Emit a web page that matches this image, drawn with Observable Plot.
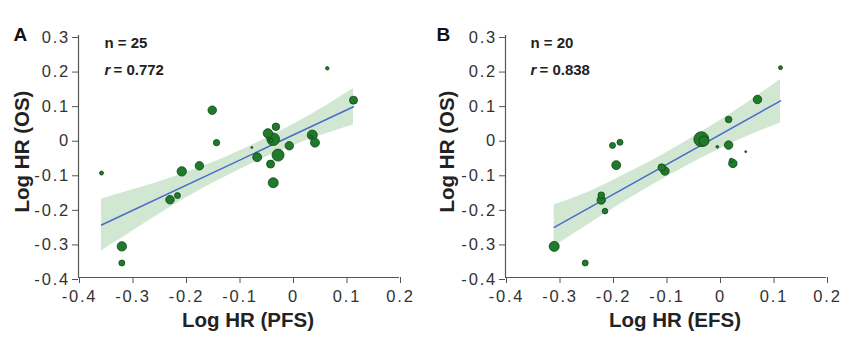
<!DOCTYPE html>
<html><head><meta charset="utf-8">
<script src="https://cdn.jsdelivr.net/npm/d3@7"></script>
<script src="https://cdn.jsdelivr.net/npm/@observablehq/plot@0.6"></script>
<style>
html,body{margin:0;padding:0;background:#fff;}
#wrap{display:flex;width:866px;height:339px;overflow:hidden;}
#wrap svg{display:block;}
g[aria-label="x-axis tick label"] text, g[aria-label="y-axis tick label"] text{letter-spacing:1.8px;}
</style></head><body><div id="wrap"></div>
<script>
// ---- shared ticks ----
const xTicks = [-0.4, -0.3, -0.2, -0.1, 0, 0.1, 0.2];
const yTicks = [-0.4, -0.3, -0.2, -0.1, 0, 0.1, 0.2, 0.3];

// ---- Panel A: PFS vs OS ----
const aLogHrPFS = [-0.357, -0.319, -0.319, -0.229, -0.215, -0.207, -0.174, -0.150, -0.142, -0.076, -0.066, -0.046, -0.031, -0.036, -0.041, -0.027, -0.036, -0.006, 0.037, 0.042, 0.065, 0.114, -0.045, 0.035, -0.040];
const aLogHrOS  = [-0.098, -0.310, -0.358, -0.175, -0.163, -0.093, -0.077, 0.084, -0.010, -0.024, -0.052, 0.017, 0.036, 0.000, -0.072, -0.046, -0.126, -0.019, 0.012, -0.010, 0.205, 0.113, 0.002, 0.008, -0.003];
const aWeight   = [4, 22, 9, 18, 9, 22, 18, 18, 10, 1, 20, 22, 14, 40, 16, 36, 25, 18, 25, 20, 3, 16, 2, 2, 4];
const aFitX = [-0.357, 0.114];
const aFitY = [-0.248, 0.094];
const aBandX  = [-0.357, -0.3, -0.25, -0.2, -0.15, -0.1, -0.05, 0, 0.05, 0.114];
const aBandLo = [-0.323, -0.267, -0.218, -0.171, -0.128, -0.089, -0.052, -0.020, 0.009, 0.041];
const aBandHi = [-0.173, -0.147, -0.124, -0.097, -0.068, -0.035, 0.002, 0.042, 0.085, 0.147];

// ---- Panel B: EFS vs OS ----
const bLogHrEFS = [-0.309, -0.251, -0.221, -0.221, -0.214, -0.200, -0.186, -0.193, -0.108, -0.102, -0.034, -0.029, -0.004, 0.017, 0.017, 0.022, 0.025, 0.049, 0.071, 0.114];
const bLogHrOS  = [-0.310, -0.358, -0.162, -0.176, -0.208, -0.018, -0.009, -0.075, -0.082, -0.092, 0.000, -0.005, -0.022, 0.057, -0.017, -0.061, -0.070, -0.036, 0.115, 0.207];
const bWeight   = [25, 9, 11, 18, 8, 9, 9, 20, 14, 18, 56, 25, 2, 11, 18, 4, 18, 1, 18, 4];
const bFitX = [-0.309, 0.114];
const bFitY = [-0.255, 0.111];
const bBandX  = [-0.309, -0.25, -0.2, -0.15, -0.1, -0.05, 0, 0.05, 0.114];
const bBandLo = [-0.310, -0.252, -0.202, -0.155, -0.110, -0.068, -0.029, 0.007, 0.047];
const bBandHi = [-0.190, -0.156, -0.120, -0.081, -0.040, 0.006, 0.053, 0.103, 0.173];

const FONT = "'Liberation Sans', Arial, Helvetica, sans-serif";

function panel(o) {
  const pts = o.x.map((x, i) => ({x, y: o.y[i], w: o.w[i]}));
  const band = o.bandX.map((x, i) => ({x, lo: o.bandLo[i], hi: o.bandHi[i]}));
  const fit = o.fitX.map((x, i) => ({x, y: o.fitY[i]}));
  const pw = 321;
  return Plot.plot({
    width: 433, height: 339,
    marginLeft: o.ml, marginRight: 433 - o.ml - pw, marginTop: 35, marginBottom: 62,
    x: {domain: [-0.4, 0.2]},
    y: {domain: [-0.4, 0.3]},
    r: {type: "sqrt", domain: [0, 49], range: [0, 7]},
    style: {fontFamily: FONT, color: "#333", background: "#fff", overflow: "visible"},
    marks: [
      Plot.areaY(band, {x: "x", y1: "lo", y2: "hi", fill: "#d2e7d2", curve: "natural"}),
      Plot.line(fit, {x: "x", y: "y", stroke: "#4a6cc8", strokeWidth: 1.5}),
      Plot.dot(pts, {x: "x", y: "y", r: "w", fill: "#1f7a2b", stroke: "#0f4716", strokeWidth: 0.8}),
      Plot.ruleX([-0.4], {stroke: "#555", strokeWidth: 1.2}),
      Plot.ruleY([-0.4], {stroke: "#555", strokeWidth: 1.2}),
      Plot.axisX({ticks: xTicks, tickFormat: d => String(d), tickSize: 6, tickPadding: 7, fontSize: 16.5, label: null, stroke: "#555", dx: 1}),
      Plot.axisY({ticks: yTicks, tickFormat: d => String(d), tickSize: 6, tickPadding: 2.5, fontSize: 16.5, label: null, stroke: "#555", dy: 2}),
      Plot.text([o.xLabel], {frameAnchor: "bottom", textAnchor: "middle", lineAnchor: "middle", dx: 9, dy: 43, fontSize: 20.5, fontWeight: "bold", fill: "#222"}),
      Plot.text([o.yLabel], {frameAnchor: "left", textAnchor: "middle", lineAnchor: "middle", rotate: -90, dx: o.ylDx, dy: -5, fontSize: 20.5, fontWeight: "bold", fill: "#222"}),
      Plot.text([o.letter], {frameAnchor: "top-left", textAnchor: "start", lineAnchor: "bottom", dx: o.letterDx, dy: 5, fontSize: 19, fontWeight: "bold", fill: "#111"}),
      Plot.text([o.nText], {frameAnchor: "top-left", textAnchor: "start", lineAnchor: "bottom", dx: o.annDx, dy: 12, fontSize: 15, fontWeight: "bold", fill: "#222"}),
      Plot.text(["r"], {frameAnchor: "top-left", textAnchor: "start", lineAnchor: "bottom", dx: o.annDx, dy: 39, fontSize: 15, fontWeight: "bold", fontStyle: "italic", fill: "#222"}),
      Plot.text([o.rText], {frameAnchor: "top-left", textAnchor: "start", lineAnchor: "bottom", dx: o.annDx + 9, dy: 39, fontSize: 15, fontWeight: "bold", fill: "#222"})
    ]
  });
}

const wrap = document.getElementById("wrap");
wrap.appendChild(panel({
  x: aLogHrPFS, y: aLogHrOS, w: aWeight,
  fitX: aFitX, fitY: aFitY, bandX: aBandX, bandLo: aBandLo, bandHi: aBandHi,
  ml: 78, ylDx: -56, letterDx: -65, annDx: 26,
  xLabel: "Log HR (PFS)", yLabel: "Log HR (OS)", letter: "A", nText: "n = 25", rText: "= 0.772"
}));
wrap.appendChild(panel({
  x: bLogHrEFS, y: bLogHrOS, w: bWeight,
  fitX: bFitX, fitY: bFitY, bandX: bBandX, bandLo: bBandLo, bandHi: bBandHi,
  ml: 72, ylDx: -58, letterDx: -69, annDx: 25,
  xLabel: "Log HR (EFS)", yLabel: "Log HR (OS)", letter: "B", nText: "n = 20", rText: "= 0.838"
}));
</script>
</body></html>
